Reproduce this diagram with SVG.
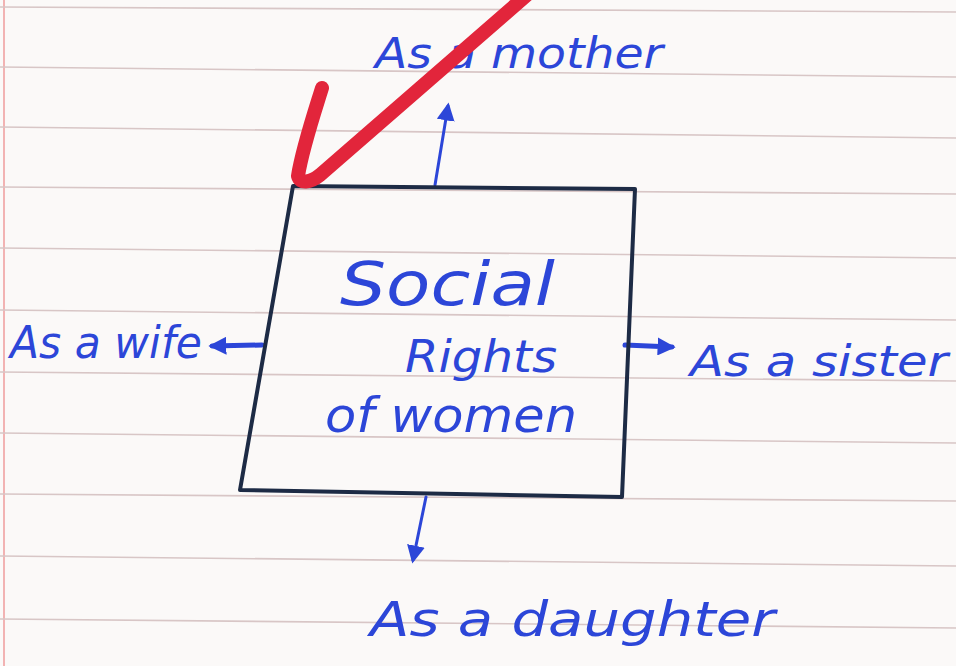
<svg xmlns="http://www.w3.org/2000/svg" width="956" height="666" viewBox="0 0 956 666">
<style>
.rule{stroke:#d8c6c6;stroke-width:1.6;fill:none}
.ink{fill:#2c46d8;font-family:"DejaVu Sans","Liberation Sans",sans-serif;font-style:italic}
.con{stroke:#2c46d8;stroke-width:3;fill:none;stroke-linecap:round}
.thick{stroke-width:5}
.box{fill:none;stroke:#1d2b45;stroke-width:4;stroke-linejoin:round}
</style>
<defs>
<marker id="ah" viewBox="0 0 10 10" refX="8" refY="5" markerWidth="6" markerHeight="6" orient="auto" markerUnits="strokeWidth">
<path d="M0,0 L10,5 L0,10 Z" fill="#2c46d8"/>
</marker>
<marker id="ah2" viewBox="0 0 10 10" refX="8" refY="5" markerWidth="3.6" markerHeight="3.6" orient="auto" markerUnits="strokeWidth">
<path d="M0,0 L10,5 L0,10 Z" fill="#2c46d8"/>
</marker>
</defs>
<rect width="956" height="666" fill="#fbf9f8"/>
<g id="paper">
<line x1="4" y1="0" x2="4" y2="666" stroke="#f2b3b3" stroke-width="2"/>
<line class="rule" x1="0" y1="7" x2="956" y2="12"/>
<line class="rule" x1="0" y1="67" x2="956" y2="77"/>
<line class="rule" x1="0" y1="127" x2="956" y2="138"/>
<line class="rule" x1="0" y1="187" x2="956" y2="194"/>
<line class="rule" x1="0" y1="248" x2="956" y2="258"/>
<line class="rule" x1="0" y1="310" x2="956" y2="320"/>
<line class="rule" x1="0" y1="372" x2="956" y2="381"/>
<line class="rule" x1="0" y1="433" x2="956" y2="443"/>
<line class="rule" x1="0" y1="494" x2="956" y2="501"/>
<line class="rule" x1="0" y1="556" x2="956" y2="566"/>
<line class="rule" x1="0" y1="619" x2="956" y2="628"/>
</g>
<g id="connectors">
<line class="con" x1="435" y1="185" x2="448" y2="106" marker-end="url(#ah)"/>
<line class="con thick" x1="262" y1="345" x2="212" y2="346" marker-end="url(#ah2)"/>
<line class="con thick" x1="625" y1="345" x2="672" y2="347" marker-end="url(#ah2)"/>
<line class="con" x1="426" y1="497" x2="413" y2="560" marker-end="url(#ah)"/>
</g>
<g id="center">
<path class="box" d="M293,186 L635,189 L622,497 L240,490 Z"/>
<text class="ink" x="340" y="305" font-size="60" textLength="215" lengthAdjust="spacingAndGlyphs">Social</text>
<text class="ink" x="405" y="372" font-size="44" textLength="152" lengthAdjust="spacingAndGlyphs">Rights</text>
<text class="ink" x="325" y="432" font-size="48" textLength="252" lengthAdjust="spacingAndGlyphs">of women</text>
</g>
<g id="mother">
<text class="ink" x="375" y="68" font-size="42" textLength="288" lengthAdjust="spacingAndGlyphs">As a mother</text>
</g>
<g id="wife">
<text class="ink" x="10" y="358" font-size="44" textLength="192" lengthAdjust="spacingAndGlyphs">As a wife</text>
</g>
<g id="sister">
<text class="ink" x="690" y="376" font-size="42" textLength="258" lengthAdjust="spacingAndGlyphs">As a sister</text>
</g>
<g id="daughter">
<text class="ink" x="370" y="636" font-size="48" textLength="405" lengthAdjust="spacingAndGlyphs">As a daughter</text>
</g>
<g id="check">
<path d="M322,88 C312,120 302,150 298,176 C300,184 310,183 320,175 L528,-6" fill="none" stroke="#e2253b" stroke-width="14" stroke-linecap="round" stroke-linejoin="round"/>
</g>
</svg>
